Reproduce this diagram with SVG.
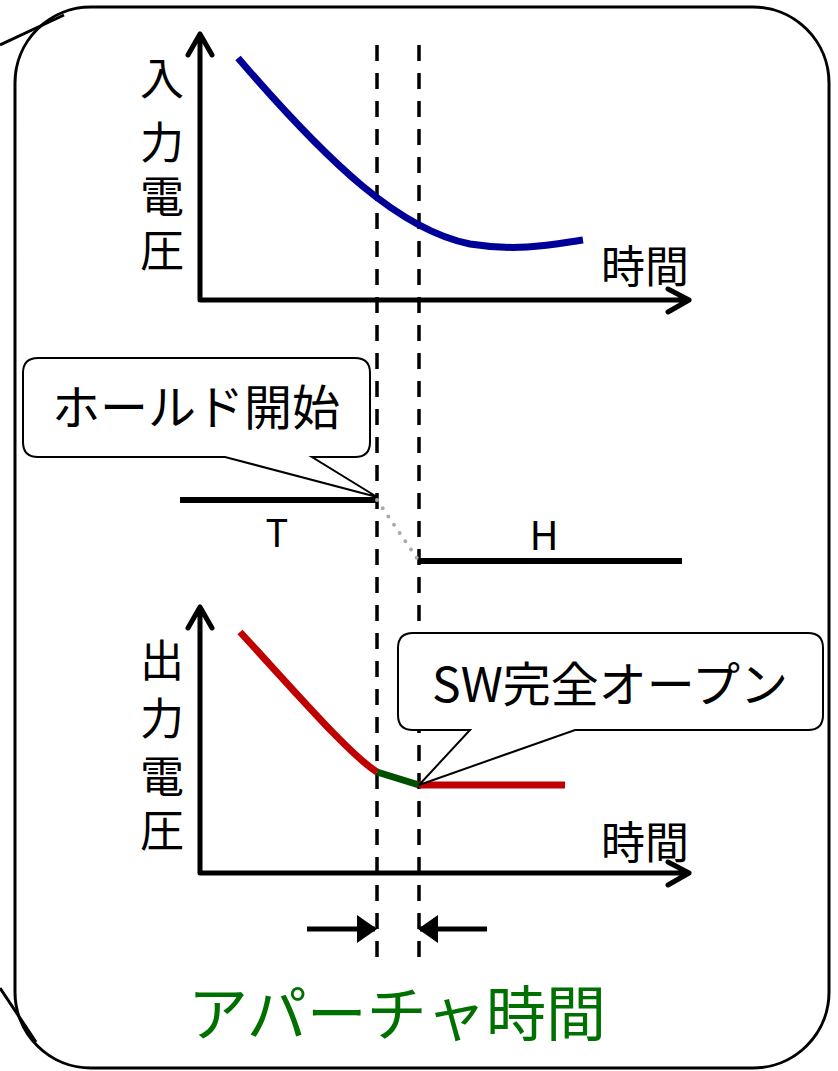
<svg xmlns="http://www.w3.org/2000/svg" width="838" height="1071" viewBox="0 0 838 1071">
<defs>
<style>
.ax{fill:none;stroke:#000;stroke-width:5;stroke-linecap:round;stroke-linejoin:round}
.dash{fill:none;stroke:#000;stroke-width:3.5;stroke-dasharray:16 12}
.jp{font-family:"Noto Sans CJK JP","Noto Sans",sans-serif;fill:#000}
.call{fill:#fff;stroke:#000;stroke-width:2;stroke-linejoin:miter}
</style>
<marker id="tri" viewBox="0 0 20 28" refX="18" refY="14" markerWidth="20" markerHeight="28" markerUnits="userSpaceOnUse" orient="auto">
<path d="M0,0 L20,14 L0,28 Z" fill="#000"/>
</marker>
</defs>
<rect width="838" height="1071" fill="#fff"/>
<g id="frame">
<rect x="15" y="7" width="814" height="1061" rx="76" ry="76" fill="none" stroke="#000" stroke-width="3"/>
<path d="M0,45 L64,15 M0,988 L36,1042" fill="none" stroke="#000" stroke-width="3"/>
</g>
<g id="connectors">
<path class="dash" d="M377,45 V960 M419,45 V960"/>
<line x1="307" y1="929" x2="375" y2="929" stroke="#000" stroke-width="5" marker-end="url(#tri)"/>
<line x1="487" y1="929" x2="420" y2="929" stroke="#000" stroke-width="5" marker-end="url(#tri)"/>
</g>
<g id="input-graph">
<path class="ax" d="M200,300 V34 M188,55 L200,34 L212,55 M200,300 H689 M668,289 L689,300 L668,312"/>
<path d="M238,58 C330,165 400,230 470,244 C520,252 555,244 583,240" fill="none" stroke="#000099" stroke-width="7"/>
<g class="jp" font-size="44" text-anchor="middle">
<text x="162" y="95">入</text>
<text x="162" y="159">力</text>
<text x="162" y="213">電</text>
<text x="162" y="267">圧</text>
</g>
<text class="jp" x="645" y="283" font-size="44" text-anchor="middle">時間</text>
</g>
<g id="control-signal">
<path d="M180,500 H377" stroke="#000" stroke-width="6"/>
<path d="M377,500 L419,561" stroke="#aaa" stroke-width="4" stroke-linecap="round" stroke-dasharray="0 10"/>
<path d="M419,561 H682" stroke="#000" stroke-width="6"/>
<text class="jp" x="277" y="547" font-size="38" text-anchor="middle">T</text>
<text class="jp" x="544" y="550" font-size="40" text-anchor="middle">H</text>
</g>
<g id="hold-start">
<path class="call" d="M38,358 H355 Q370,358 370,373 V442 Q370,457 355,457 H312 L377,497 L225,457 H38 Q23,457 23,442 V373 Q23,358 38,358 Z"/>
<text class="jp" x="196" y="425" font-size="48" text-anchor="middle">ホールド開始</text>
</g>
<g id="output-graph">
<path class="ax" d="M200,873 V607 M188,628 L200,607 L212,628 M200,873 H689 M668,862 L689,873 L668,885"/>
<path d="M240,632 C300,697 350,755 377,772" fill="none" stroke="#c00000" stroke-width="7"/>
<path d="M377,772 L419,785" fill="none" stroke="#005000" stroke-width="7"/>
<path d="M419,785 H565" fill="none" stroke="#c00000" stroke-width="7"/>
<g class="jp" font-size="44" text-anchor="middle">
<text x="162" y="677">出</text>
<text x="162" y="735">力</text>
<text x="162" y="793">電</text>
<text x="162" y="847">圧</text>
</g>
<text class="jp" x="645" y="859" font-size="44" text-anchor="middle">時間</text>
</g>
<g id="sw-open">
<path class="call" d="M413,633 H808 Q823,633 823,648 V715 Q823,730 808,730 H575 L419,785 L470,730 H413 Q398,730 398,715 V648 Q398,633 413,633 Z"/>
<text class="jp" x="610" y="702" font-size="48" text-anchor="middle">SW完全オープン</text>
</g>
<g id="aperture-label">
<text x="397" y="1036" font-family="Noto Sans CJK JP, sans-serif" font-size="60" fill="#007000" text-anchor="middle">アパーチャ時間</text>
</g>
</svg>
